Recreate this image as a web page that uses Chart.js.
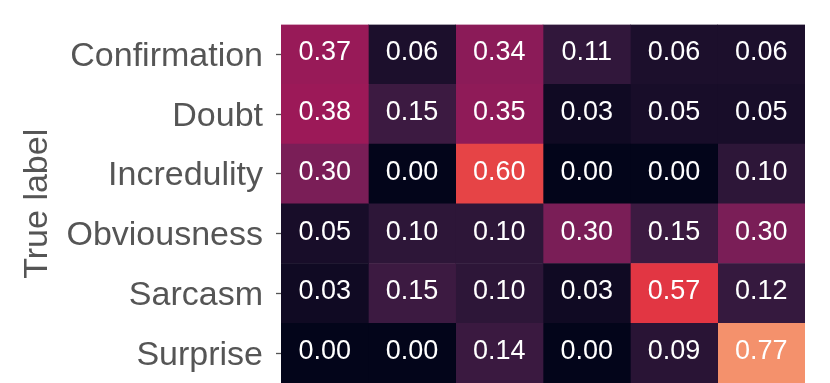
<!DOCTYPE html>
<html>
<head>
<meta charset="utf-8">
<script src="https://cdn.jsdelivr.net/npm/chart.js@4"></script>
<style>
html, body { margin: 0; padding: 0; background: #fff; }
</style>
</head>
<body>
<canvas id="cmChart" width="830" height="383"></canvas>
<script>
// CONFUSION MATRIX – true label rows, predicted label columns
const trueLabels = ['Confirmation', 'Doubt', 'Incredulity', 'Obviousness', 'Sarcasm', 'Surprise'];
const predLabels = ['Confirmation', 'Doubt', 'Incredulity', 'Obviousness', 'Sarcasm', 'Surprise'];

const confirmationRow = [0.37, 0.06, 0.34, 0.11, 0.06, 0.06];
const doubtRow        = [0.38, 0.15, 0.35, 0.03, 0.05, 0.05];
const incredulityRow  = [0.30, 0.00, 0.60, 0.00, 0.00, 0.10];
const obviousnessRow  = [0.05, 0.10, 0.10, 0.30, 0.15, 0.30];
const sarcasmRow      = [0.03, 0.15, 0.10, 0.03, 0.57, 0.12];
const surpriseRow     = [0.00, 0.00, 0.14, 0.00, 0.09, 0.77];

const matrix = [confirmationRow, doubtRow, incredulityRow, obviousnessRow, sarcasmRow, surpriseRow];

// rocket colormap (seaborn), stops at 0..1
const rocketStops = [
    [0.000, '#03051a'],
    [0.083, '#35193e'],
    [0.250, '#701f57'],
    [0.417, '#ad1759'],
    [0.583, '#e13342'],
    [0.750, '#f37651'],
    [0.917, '#f6b48f'],
    [1.000, '#faebdd']
];

// value -> colormap position (matched by eye to the reference shading)
const normStops = [[0, 0], [0.06, 0.042], [0.15, 0.103], [0.30, 0.277], [0.60, 0.625], [0.77, 0.823], [1, 1]];

function hexToRgb(h) {
    return [parseInt(h.slice(1, 3), 16), parseInt(h.slice(3, 5), 16), parseInt(h.slice(5, 7), 16)];
}

function norm(v) {
    for (let k = 1; k < normStops.length; k++) {
        if (v <= normStops[k][0]) {
            const [v0, t0] = normStops[k - 1], [v1, t1] = normStops[k];
            return t0 + (v - v0) / (v1 - v0) * (t1 - t0);
        }
    }
    return 1;
}

function rocket(t) {
    t = Math.max(0, Math.min(1, t));
    for (let k = 1; k < rocketStops.length; k++) {
        const [t1, c1] = rocketStops[k];
        if (t <= t1) {
            const [t0, c0] = rocketStops[k - 1];
            const f = (t - t0) / (t1 - t0);
            const a = hexToRgb(c0), b = hexToRgb(c1);
            const rgb = a.map((v, i) => Math.round(v + (b[i] - v) * f));
            return 'rgb(' + rgb.join(',') + ')';
        }
    }
    return rocketStops[rocketStops.length - 1][1];
}

// one stacked dataset per predicted column, each cell spans one slot
const datasets = predLabels.map((name, j) => ({
    label: name,
    data: matrix.map(() => 1),
    backgroundColor: matrix.map(row => rocket(norm(row[j]))),
    borderWidth: 0,
    barPercentage: 1,
    categoryPercentage: 1
}));

const cellText = {
    id: 'cellText',
    afterDatasetsDraw(chart) {
        const ctx = chart.ctx;
        ctx.save();
        ctx.fillStyle = '#ffffff';
        ctx.font = '27px "Liberation Sans", Arial, sans-serif';
        ctx.textAlign = 'center';
        ctx.textBaseline = 'middle';
        chart.data.datasets.forEach((ds, j) => {
            chart.getDatasetMeta(j).data.forEach((bar, i) => {
                const c = bar.getCenterPoint();
                ctx.fillText(matrix[i][j].toFixed(2), c.x, c.y - 1.5);
            });
        });
        ctx.restore();
    }
};

Chart.defaults.font.family = '"Liberation Sans", Arial, sans-serif';

new Chart(document.getElementById('cmChart'), {
    type: 'bar',
    data: {
        labels: trueLabels,
        datasets: datasets
    },
    options: {
        indexAxis: 'y',
        responsive: false,
        animation: false,
        layout: { padding: { top: 24.5, right: 25, bottom: 0, left: 0 } },
        plugins: {
            legend: { display: false },
            tooltip: { enabled: false }
        },
        scales: {
            x: { stacked: true, display: false, min: 0, max: predLabels.length },
            y: {
                stacked: true,
                grid: { offset: false, drawOnChartArea: false, tickLength: 5, tickColor: '#555555', tickWidth: 1.3 },
                border: { display: false },
                ticks: { color: '#555555', font: { size: 34 }, padding: 13, labelOffset: 2 },
                title: { display: true, text: 'True label', color: '#555555', font: { size: 34 }, padding: { top: 17, bottom: 0 } },
                afterFit(scale) {
                    scale.width = 281;
                    scale.paddingTop = 0;
                    scale.paddingBottom = 0;
                }
            }
        }
    },
    plugins: [cellText]
});
</script>
</body>
</html>
